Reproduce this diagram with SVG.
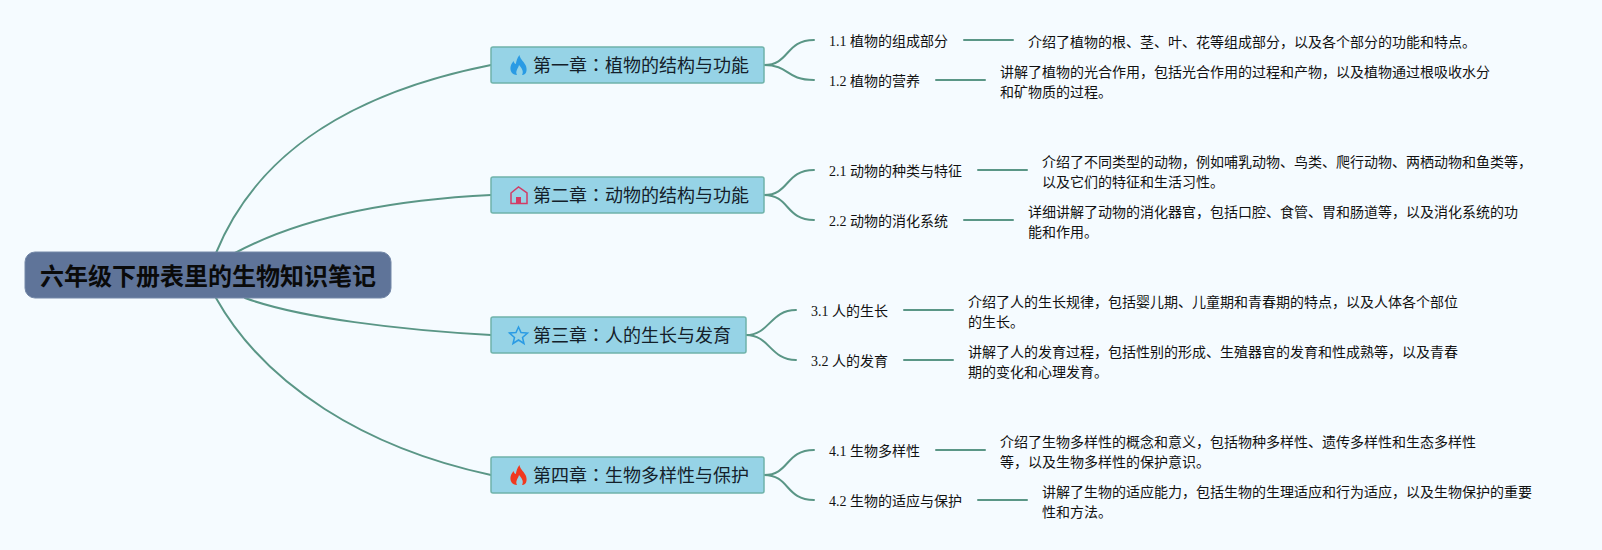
<svg xmlns="http://www.w3.org/2000/svg" width="1602" height="550" viewBox="0 0 1602 550">
<style>
text{font-family:"Liberation Serif","Noto Sans CJK SC",serif;fill:#111}
.root rect{fill:#5f7499;stroke:#7488a8;stroke-width:1}
.root text{font-family:"Noto Sans CJK SC",sans-serif;font-size:24px;font-weight:700;fill:#0a0a0a}
.ch rect{fill:#96d3e6;stroke:#6fb3aa;stroke-width:1.5}
.ch text{font-family:"Noto Sans CJK TC",sans-serif;font-size:18px;fill:#14202a}
.sub text,.det text{font-size:14px}
#conn path{fill:none;stroke:#5a9686;stroke-width:2;stroke-linecap:round}
</style>
<rect width="1602" height="550" fill="#f5fbff"/>
<g id="conn">
<path d="M216 253C258 150 355 92 491 65"/>
<path d="M235 253C300 218 390 200 491 195"/>
<path d="M245 298C300 318 400 330 491 335"/>
<path d="M216 298C265 385 365 448 491 475"/>
<path d="M764 65C790 65 785 40 814 40"/><path d="M764 65C790 65 785 80 814 80"/>
<path d="M764 195C790 195 785 170 814 170"/><path d="M764 195C790 195 785 220 814 220"/>
<path d="M746 335C770 335 770 310 796 310"/><path d="M746 335C770 335 770 360 796 360"/>
<path d="M764 475C790 475 785 450 814 450"/><path d="M764 475C790 475 785 500 814 500"/>
<path d="M964 40H1013"/><path d="M936 80H985"/><path d="M978 170H1027"/><path d="M964 220H1013"/>
<path d="M904 310H953"/><path d="M904 360H953"/><path d="M936 450H985"/><path d="M978 500H1027"/>
</g>
<defs><path id="flame" fill-rule="evenodd" d="M9.500 0C10 4 13 5.500 15.500 10C17.500 14 17 20 12 20C14 17 12 13 9 10C8 14 5 16 7 20C2 20 0 16 0.500 12C1 9 2.500 7.500 3.500 6C4 8 5 9 5.800 9C6.500 6 7 3 9.500 0Z"/></defs>
<g id="root" class="root"><rect x="25" y="252" width="366" height="46" rx="10"/><text x="40" y="285">六年级下册表里的生物知识笔记</text></g>
<g id="ch1" class="ch"><rect x="491" y="47" width="273" height="36" rx="2"/><use href="#flame" x="510" y="55" fill="#2a9be4"/><text x="533" y="72">第一章：植物的结构与功能</text></g>
<g id="ch2" class="ch"><rect x="491" y="177" width="273" height="36" rx="2"/><path d="M511 193L518.500 187L527 193V203.500H511Z" fill="none" stroke="#d23c66" stroke-width="1.500"/><rect x="516" y="197" width="5" height="7" style="fill:#d23c66;stroke:none"/><text x="533" y="202">第二章：动物的结构与功能</text></g>
<g id="ch3" class="ch"><rect x="491" y="317" width="255" height="36" rx="2"/><path d="M518.500 327L521 332.500L527.500 333L522.500 337.500L524 343.500L518.500 340L513 343.500L514.500 337.500L509.500 333L516 332.500Z" fill="none" stroke="#2a9be4" stroke-width="1.500"/><text x="533" y="342">第三章：人的生长与发育</text></g>
<g id="ch4" class="ch"><rect x="491" y="457" width="273" height="36" rx="2"/><use href="#flame" x="510" y="465" fill="#f0391f"/><text x="533" y="482">第四章：生物多样性与保护</text></g>
<g class="sub">
<g id="s11"><text x="829" y="46">1.1 植物的组成部分</text></g>
<g id="s12"><text x="829" y="86">1.2 植物的营养</text></g>
<g id="s21"><text x="829" y="176">2.1 动物的种类与特征</text></g>
<g id="s22"><text x="829" y="226">2.2 动物的消化系统</text></g>
<g id="s31"><text x="811" y="316">3.1 人的生长</text></g>
<g id="s32"><text x="811" y="366">3.2 人的发育</text></g>
<g id="s41"><text x="829" y="456">4.1 生物多样性</text></g>
<g id="s42"><text x="829" y="506">4.2 生物的适应与保护</text></g>
</g>
<g class="det">
<g id="d11"><text x="1028" y="47">介绍了植物的根、茎、叶、花等组成部分，以及各个部分的功能和特点。</text></g>
<g id="d12"><text x="1000" y="77">讲解了植物的光合作用，包括光合作用的过程和产物，以及植物通过根吸收水分</text><text x="1000" y="97">和矿物质的过程。</text></g>
<g id="d21"><text x="1042" y="167">介绍了不同类型的动物，例如哺乳动物、鸟类、爬行动物、两栖动物和鱼类等，</text><text x="1042" y="187">以及它们的特征和生活习性。</text></g>
<g id="d22"><text x="1028" y="217">详细讲解了动物的消化器官，包括口腔、食管、胃和肠道等，以及消化系统的功</text><text x="1028" y="237">能和作用。</text></g>
<g id="d31"><text x="968" y="307">介绍了人的生长规律，包括婴儿期、儿童期和青春期的特点，以及人体各个部位</text><text x="968" y="327">的生长。</text></g>
<g id="d32"><text x="968" y="357">讲解了人的发育过程，包括性别的形成、生殖器官的发育和性成熟等，以及青春</text><text x="968" y="377">期的变化和心理发育。</text></g>
<g id="d41"><text x="1000" y="447">介绍了生物多样性的概念和意义，包括物种多样性、遗传多样性和生态多样性</text><text x="1000" y="467">等，以及生物多样性的保护意识。</text></g>
<g id="d42"><text x="1042" y="497">讲解了生物的适应能力，包括生物的生理适应和行为适应，以及生物保护的重要</text><text x="1042" y="517">性和方法。</text></g>
</g>
</svg>
